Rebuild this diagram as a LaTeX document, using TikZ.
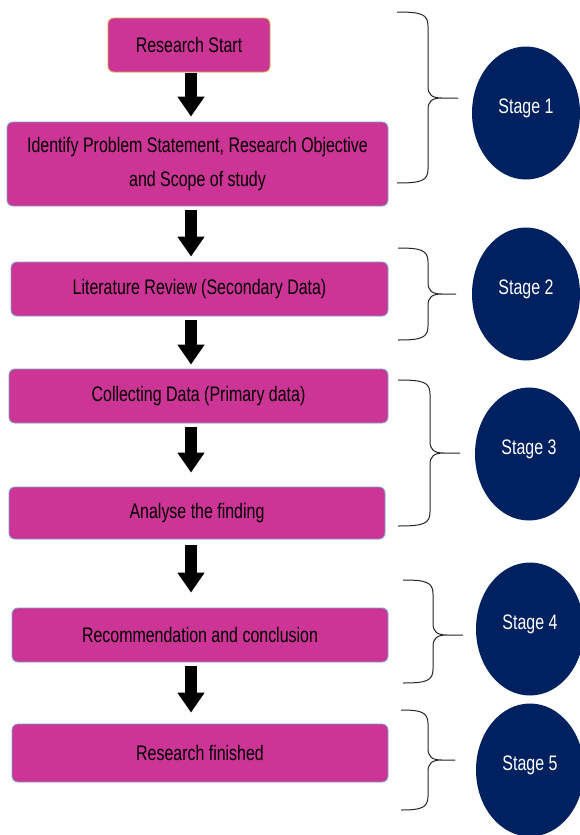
\documentclass[tikz,border=0pt]{standalone}
\usepackage{fontspec}
\setmainfont{Liberation Sans}[FakeStretch=0.76]
\usetikzlibrary{arrows.meta,shapes.geometric}
\definecolor{boxfill}{RGB}{204,52,150}
\definecolor{boxline}{RGB}{130,160,200}
\definecolor{startline}{RGB}{215,160,80}
\definecolor{navy}{RGB}{0,33,96}
\newcommand\stgbrace[6]{%
  \draw[bracestyle] (#1,#4) .. controls (#2-7,#4) and (#2,#4+2) .. (#2,#4+14)
    -- (#2,#5-12) .. controls (#2,#5-3) and (#2+4,#5) .. (#2+14,#5) -- (#3,#5)
    (#2+14,#5) .. controls (#2+4,#5) and (#2,#5+3) .. (#2,#5+12)
    -- (#2,#6-14) .. controls (#2,#6-2) and (#2-7,#6) .. (#1,#6);}
\begin{document}
\begin{tikzpicture}[x=1pt,y=-1pt,
  stepbox/.style={draw=boxline, line width=0.9pt, fill=boxfill, rounded corners=6pt,
    inner sep=0pt, align=center, font=\fontsize{21}{34}\selectfont, text=black},
  startbox/.style={stepbox, draw=startline},
  bigarrow/.style={line width=12pt, -{Triangle[width=26pt,length=20pt]}, black},
  stagecirc/.style={ellipse, fill=navy, draw=none, minimum width=108pt, minimum height=133pt, inner sep=0pt},
  stagetext/.style={text=white, font=\fontsize{21}{25}\selectfont, inner sep=0pt},
  bracestyle/.style={draw=black!85, line width=1pt}]
\useasboundingbox (0,0) rectangle (580,835);
\clip (0,0) rectangle (580,835);
\fill[white] (0,0) rectangle (580,835);

\node[startbox, minimum width=162pt, minimum height=54pt] (b1) at (189,45) {Research Start};
\node[stepbox, minimum width=381pt, minimum height=84pt] (b2) at (197.5,164) {Identify Problem Statement, Research Objective\\and Scope of study};
\node[stepbox, minimum width=377pt, minimum height=54pt] (b3) at (199.5,289) {Literature Review (Secondary Data)};
\node[stepbox, minimum width=379pt, minimum height=54pt] (b4) at (198.5,396) {Collecting Data (Primary data)};
\node[stepbox, minimum width=376pt, minimum height=52pt] (b5) at (197,513) {Analyse the finding};
\node[stepbox, minimum width=376pt, minimum height=54pt] (b6) at (200,635) {Recommendation and conclusion};
\node[stepbox, minimum width=376pt, minimum height=58pt] (b7) at (200,753) {Research finished};

\coordinate (ax) at (191,0);
\draw[bigarrow, shorten <=1pt, shorten >=5pt] (b1.south -| ax) -- (b2.north -| ax);
\draw[bigarrow, shorten <=4pt, shorten >=5pt] (b2.south -| ax) -- (b3.north -| ax);
\draw[bigarrow, shorten <=4pt, shorten >=4pt] (b3.south -| ax) -- (b4.north -| ax);
\draw[bigarrow, shorten <=4pt, shorten >=14pt] (b4.south -| ax) -- (b5.north -| ax);
\draw[bigarrow, shorten <=6pt, shorten >=15pt] (b5.south -| ax) -- (b6.north -| ax);
\draw[bigarrow, shorten <=4pt, shorten >=11pt] (b6.south -| ax) -- (b7.north -| ax);

\stgbrace{397}{428}{458}{12}{98}{183}
\stgbrace{398}{428}{456}{248}{294}{340}
\stgbrace{398}{430}{460}{380}{453}{526}
\stgbrace{403}{433}{463}{580}{635}{683}
\stgbrace{401}{428}{455}{710}{760}{810}

\node[stagecirc] (c1) at (526,113) {};
\node[stagecirc] (c2) at (526,294) {};
\node[stagecirc] (c3) at (529,454) {};
\node[stagecirc] (c4) at (530,629) {};
\node[stagecirc] (c5) at (530,770) {};
\node[stagetext] (t1) at ([yshift=5pt]c1.center) {Stage 1};
\node[stagetext] (t2) at ([yshift=5pt]c2.center) {Stage 2};
\node[stagetext] (t3) at ([yshift=5pt]c3.center) {Stage 3};
\node[stagetext] (t4) at ([yshift=5pt]c4.center) {Stage 4};
\node[stagetext] (t5) at ([yshift=5pt]c5.center) {Stage 5};
\end{tikzpicture}
\end{document}
